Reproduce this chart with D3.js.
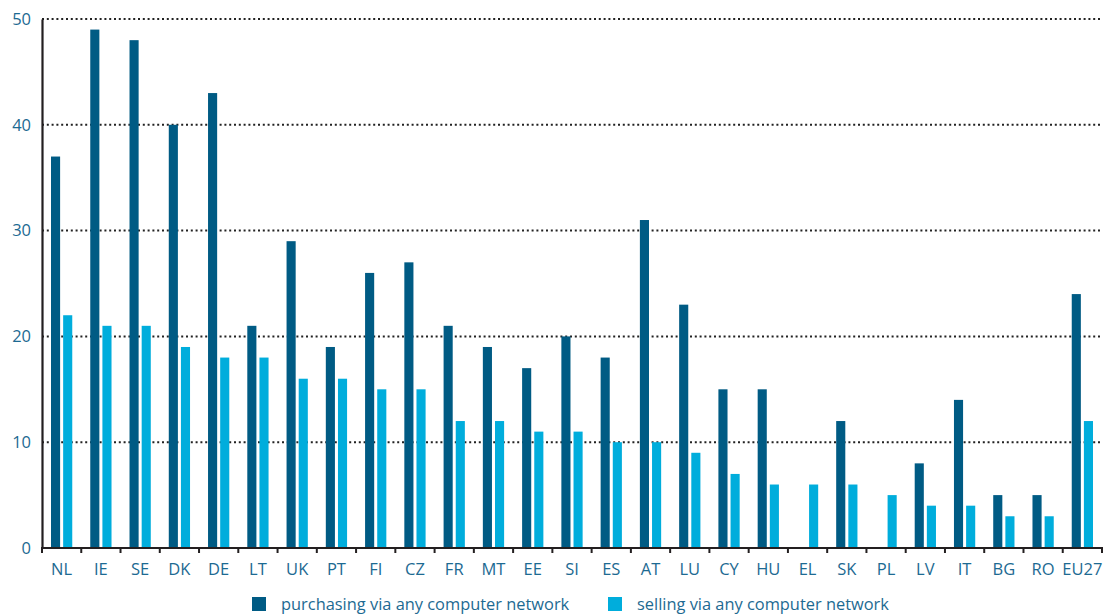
<!DOCTYPE html>
<html>
<head>
<meta charset="utf-8">
<script src="https://cdn.jsdelivr.net/npm/d3@7"></script>
<style>
  body { margin: 0; background: #fff; }
  svg text { font-family: "Open Sans", "Noto Sans", sans-serif; }
</style>
</head>
<body>
<svg id="chart" width="1109" height="616"></svg>
<script>
// Country codes along the x axis
const countries = ["NL","IE","SE","DK","DE","LT","UK","PT","FI","CZ","FR","MT","EE","SI","ES","AT","LU","CY","HU","EL","SK","PL","LV","IT","BG","RO","EU27"];
// Share of enterprises (%) — null where no value is available
const purchasing = [37,49,48,40,43,21,29,19,26,27,21,19,17,20,18,31,23,15,15,null,12,null,8,14,5,5,24];
const selling    = [22,21,21,19,18,18,16,16,15,15,12,12,11,11,10,10,9,7,6,6,6,5,4,4,3,3,12];
const yTicks = [0,10,20,30,40,50];
const seriesNames = ["purchasing via any computer network","selling via any computer network"];
const seriesColors = ["#005b84","#00addc"];
const textColor = "#1d6a92";

const svg = d3.select("#chart");
const plot = { left: 42, right: 1102, top: 19, bottom: 548 };

const x = d3.scaleBand().domain(countries).range([plot.left, plot.right]).paddingInner(0).paddingOuter(0);
const inner = d3.scaleBand().domain([0,1]).range([9, x.bandwidth() - 9]).paddingInner(0.25);
const y = d3.scaleLinear().domain([0,50]).range([plot.bottom, plot.top]);

// Dotted gridlines
svg.append("g").selectAll("line").data(yTicks.filter(d => d > 0)).join("line")
  .attr("x1", plot.left).attr("x2", plot.right)
  .attr("y1", d => y(d)).attr("y2", d => y(d))
  .attr("stroke", "#222").attr("stroke-width", 2)
  .attr("stroke-dasharray", "2,2.8");

// Bars
const series = [purchasing, selling];
series.forEach((vals, si) => {
  svg.append("g").selectAll("rect")
    .data(countries.map((c, i) => ({c, v: vals[i]})).filter(d => d.v != null))
    .join("rect")
    .attr("x", d => x(d.c) + inner(si))
    .attr("width", inner.bandwidth())
    .attr("y", d => y(d.v))
    .attr("height", d => y(0) - y(d.v))
    .attr("fill", seriesColors[si]);
});

// Y axis
const yAxis = svg.append("g").attr("transform", `translate(${plot.left},0)`)
  .call(d3.axisLeft(y).tickValues(yTicks).tickSize(0).tickPadding(11));
yAxis.select(".domain").attr("stroke", "#231f20").attr("stroke-width", 2.2);
yAxis.selectAll("text").attr("fill", textColor).style("font-size", "16.5px");

// X axis with ticks at category boundaries
const xAxis = svg.append("g").attr("transform", `translate(0,${plot.bottom})`);
xAxis.append("line").attr("x1", plot.left - 1).attr("x2", plot.right + 1)
  .attr("stroke", "#231f20").attr("stroke-width", 2.2);
xAxis.selectAll("line.tk").data(d3.range(countries.length + 1)).join("line")
  .attr("class", "tk")
  .attr("x1", i => plot.left + i * x.step()).attr("x2", i => plot.left + i * x.step())
  .attr("y1", 0).attr("y2", 5)
  .attr("stroke", "#231f20").attr("stroke-width", 2);
xAxis.selectAll("text").data(countries).join("text")
  .attr("x", d => x(d) + x.bandwidth() / 2)
  .attr("y", 27)
  .attr("text-anchor", "middle")
  .attr("fill", textColor)
  .style("font-size", "16.5px")
  .text(d => d);

// Legend
const legendX = [252, 608];
seriesNames.forEach((name, i) => {
  const g = svg.append("g").attr("transform", `translate(${legendX[i]},597)`);
  g.append("rect").attr("width", 14).attr("height", 14).attr("fill", seriesColors[i]);
  g.append("text").attr("x", 29).attr("y", 13).attr("fill", textColor)
    .style("font-size", "16.4px").text(name);
});
</script>
</body>
</html>
